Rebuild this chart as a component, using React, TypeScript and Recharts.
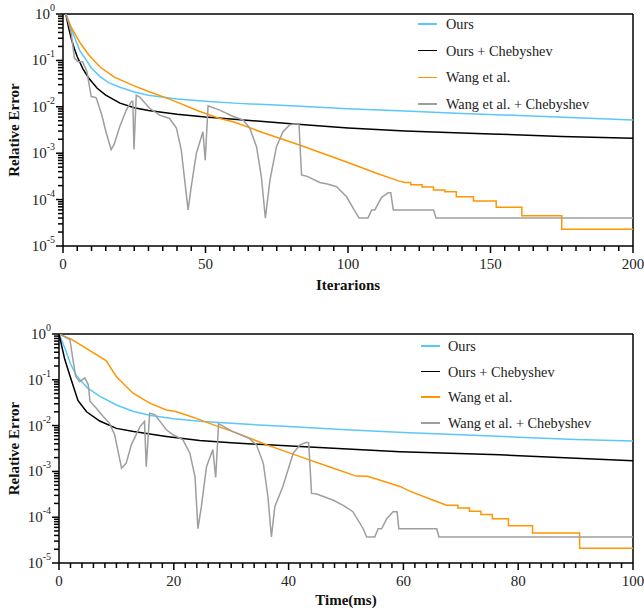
import React from 'react';
import { LineChart, Line, XAxis, YAxis, ReferenceLine } from 'recharts';

const FONT = '"Liberation Serif", "Times New Roman", Times, serif';
const AXIS_COLOR = '#000000';

const SERIES_NAMES = ['Ours', 'Ours + Chebyshev', 'Wang et al.', 'Wang et al. + Chebyshev'];
const SERIES_COLORS = ['#5ac8fa', '#000000', '#ff9500', '#9e9e9e'];

// ---- top panel: error vs iterations ----
const iterOursX = [1, 2, 3, 4, 6, 8, 10, 13, 16, 20, 25, 30, 40, 50, 60, 80, 100, 120, 140, 160, 180, 200];
const iterOursY = [1, 0.66, 0.45, 0.32, 0.158, 0.105, 0.068, 0.0447, 0.0331, 0.0263, 0.0209, 0.0178, 0.0148, 0.0132, 0.012, 0.0105, 0.0091, 0.0081, 0.0072, 0.0065, 0.0058, 0.0052];

const iterChebX = [1, 2, 3, 4, 5, 7, 9, 12, 15, 20, 25, 30, 40, 50, 60, 80, 100, 120, 150, 175, 200];
const iterChebY = [1, 0.5, 0.28, 0.178, 0.12, 0.066, 0.0417, 0.0251, 0.0178, 0.012, 0.0095, 0.0083, 0.0069, 0.006, 0.0054, 0.0043, 0.0035, 0.003, 0.0026, 0.0023, 0.0021];

const iterWangX = [1, 3, 6, 9, 13, 18, 25, 30, 35, 40, 48, 55, 60, 70, 83, 90, 100, 110, 118, 120,
  122, 122, 126, 126, 130, 130, 134, 134, 138, 138, 144, 144, 152, 152, 161, 161, 175, 175, 200];
const iterWangY = [1, 0.5, 0.24, 0.132, 0.072, 0.0437, 0.0282, 0.0214, 0.0166, 0.0126, 0.0079, 0.0056, 0.0047, 0.0028, 0.0015, 0.00105, 6.3e-4, 3.7e-4, 2.5e-4, 2.34e-4,
  2.34e-4, 2.09e-4, 2.09e-4, 1.86e-4, 1.86e-4, 1.62e-4, 1.62e-4, 1.48e-4, 1.48e-4, 1.15e-4, 1.15e-4, 9.3e-5, 9.3e-5, 6.8e-5, 6.8e-5, 4.5e-5, 4.5e-5, 2.3e-5, 2.3e-5];

const iterWangChebX = [1, 2, 2.9, 4, 5.2, 6.9, 8.4, 9.9, 11.6, 13.5, 15.2, 16.9, 18, 19.9, 22.2, 24, 24.5, 24.9, 25.7, 26.9,
  30.4, 33.9, 37.4, 39.8, 41.5, 42.7, 43.9, 45, 46.8, 49.1, 49.9, 50.9, 55, 59.7, 63.2, 65.5, 67.9, 69.6, 71, 72.6,
  74.9, 77.2, 79.6, 81.9, 82.8, 83.7, 85.5, 90.1, 92.4, 96, 99.5, 102, 103.9, 107, 108.3, 109.4, 111.8, 114.1, 115, 115.9,
  130, 130.9, 200];
const iterWangChebY = [1, 0.63, 0.38, 0.112, 0.093, 0.093, 0.0575, 0.0166, 0.0158, 0.0071, 0.0027, 0.0012, 0.00158, 0.0037, 0.0085, 0.0129, 0.0132, 0.0012, 0.0178, 0.0162,
  0.0093, 0.0066, 0.0056, 0.0035, 0.00117, 2.6e-4, 6e-5, 1.9e-4, 1e-3, 0.0029, 7.1e-4, 0.0105, 0.0085, 0.0062, 0.0052, 0.0035, 0.00138, 3.1e-4, 4e-5, 2.6e-4,
  0.00138, 0.0029, 0.0041, 0.0043, 0.0042, 3.4e-4, 3.2e-4, 2.34e-4, 2.2e-4, 1.9e-4, 1.15e-4, 6.2e-5, 4e-5, 4e-5, 6e-5, 6e-5, 1.12e-4, 1.41e-4, 1.41e-4, 6e-5,
  6e-5, 4e-5, 4e-5];

// ---- bottom panel: error vs time (ms) ----
const timeOursX = [0, 1, 2, 3, 4, 5, 7, 10, 13, 16, 20, 25, 30, 40, 50, 60, 70, 80, 90, 100];
const timeOursY = [1, 0.5, 0.224, 0.126, 0.089, 0.066, 0.0447, 0.0282, 0.0204, 0.0166, 0.0141, 0.0123, 0.0112, 0.0095, 0.0081, 0.0071, 0.0063, 0.0056, 0.005, 0.0046];

const timeChebX = [0, 1, 2, 3.3, 4.8, 7.1, 10, 13, 18.7, 24.5, 30, 42, 59.4, 76.8, 100];
const timeChebY = [1, 0.28, 0.112, 0.0355, 0.02, 0.0126, 0.0087, 0.0074, 0.0058, 0.0047, 0.0042, 0.0035, 0.0027, 0.0023, 0.0017];

const timeWangX = [0, 2.2, 8.2, 10, 12.9, 15.8, 18.7, 20.3, 22.2, 24.5, 26.8, 30.3, 36.2, 42, 47.8, 51.8, 53.7, 55.3, 59.4, 61.1,
  65.2, 67.5, 69.5, 69.5, 71.5, 71.5, 73.5, 73.5, 75.5, 75.5, 78.3, 78.3, 82.5, 82.5, 90.7, 90.7, 100];
const timeWangY = [1, 0.76, 0.263, 0.117, 0.051, 0.031, 0.0219, 0.0204, 0.017, 0.0135, 0.0105, 0.0074, 0.0038, 0.0021, 0.00117, 7.9e-4, 7.8e-4, 6.8e-4, 4.7e-4, 3.7e-4,
  2.34e-4, 1.82e-4, 1.82e-4, 1.58e-4, 1.58e-4, 1.35e-4, 1.35e-4, 1.15e-4, 1.15e-4, 9.3e-5, 9.3e-5, 6.5e-5, 6.5e-5, 4.5e-5, 4.5e-5, 2.1e-5, 2.1e-5];

const timeWangChebX = [0, 1.9, 2.4, 2.9, 3.6, 4.5, 5.1, 5.4, 6.5, 7.7, 8.8, 9.7, 10.3, 10.9, 11.7, 12.6, 14.1, 14.9, 15.2, 15.8,
  16.7, 18.7, 19.9, 21.6, 22.8, 23.7, 24.2, 24.8, 25.7, 26.8, 27.3, 27.8, 30.3, 33.2, 34.4, 35.6, 36.4, 37, 37.6, 39,
  40.8, 42, 43.1, 43.5, 44, 44.9, 47.8, 49.5, 51.2, 53, 53.6, 55, 55.6, 56.2, 57.1, 58.2, 58.9, 59.2, 65.8, 66.2, 100];
const timeWangChebY = [1, 0.76, 0.295, 0.12, 0.091, 0.11, 0.078, 0.034, 0.024, 0.0158, 0.0112, 0.0063, 0.0027, 0.00117, 0.0015, 0.0038, 0.0095, 0.0123, 0.00126, 0.0186,
  0.0174, 0.0081, 0.0063, 0.0049, 0.0025, 7.6e-4, 5.6e-5, 1.7e-4, 0.00126, 0.003, 7.4e-4, 0.011, 0.0074, 0.0052, 0.0038, 0.0015, 2.8e-4, 3.7e-5, 1.7e-4, 4.7e-4,
  0.0025, 0.0038, 0.0043, 0.0042, 3.3e-4, 3.2e-4, 2.34e-4, 1.82e-4, 1.32e-4, 5.6e-5, 3.7e-5, 3.7e-5, 5.6e-5, 5.6e-5, 9.3e-5, 1.32e-4, 1.32e-4, 5.6e-5, 5.6e-5, 3.7e-5, 3.7e-5];

// axis tick values
const iterMajorTicks = [0, 50, 100, 150, 200];
const timeMajorTicks = [0, 20, 40, 60, 80, 100];
const yDecades = [-5, -4, -3, -2, -1];
const yMantissas = [1, 2, 3, 4, 5, 6, 7, 8, 9];

const yTicks = [...yDecades.flatMap(d => yMantissas.map(m => m * Math.pow(10, d))), 1];
const minorTicks = (max: number, step: number) => Array.from({ length: max / step + 1 }, (_, i) => i * step);

const toPoints = (xs: number[], ys: number[]) => xs.map((x, i) => ({ x, y: ys[i] }));

const MINOR_LEN = 5;
const MAJOR_EXTRA = 2;

// Recharts draws the short tick; majors get a longer stub and the label here
const YTick = ({ x, y, payload }: any) => {
  const lg = Math.log10(payload.value);
  const exp = Math.round(lg);
  if (Math.abs(lg - exp) > 1e-6) return <g />;
  return (
    <g>
      <line x1={x} x2={x - MAJOR_EXTRA} y1={y} y2={y} stroke={AXIS_COLOR} strokeWidth={1.5} />
      <text x={x - 3} y={y} textAnchor="end" dominantBaseline="central" style={{ fontFamily: FONT, fontSize: 15 }} fill="#222">
        <tspan>10</tspan>
        <tspan dy={-7} style={{ fontSize: 10 }}>{exp}</tspan>
      </text>
    </g>
  );
};

const makeXTick = (majors: number[]) => ({ x, y, payload }: any) => {
  if (!majors.includes(payload.value)) return <g />;
  return (
    <g>
      <line x1={x} x2={x} y1={y} y2={y + MAJOR_EXTRA} stroke={AXIS_COLOR} strokeWidth={1.5} />
      <text x={x} y={y + 13} textAnchor="middle" dominantBaseline="central" style={{ fontFamily: FONT, fontSize: 15 }} fill="#222">
        {payload.value}
      </text>
    </g>
  );
};

// own prop names so the clone Recharts makes of a label element cannot move it
const AxisTitle = ({ tx, ty, rotate, text }: { tx: number; ty: number; rotate?: boolean; text: string }) => (
  <text
    x={tx}
    y={ty}
    transform={rotate ? `rotate(-90 ${tx} ${ty})` : undefined}
    textAnchor="middle"
    dominantBaseline="central"
    style={{ fontFamily: FONT, fontSize: 15, fontWeight: 'bold' }}
    fill="#111"
  >
    {text}
  </text>
);

interface PanelProps {
  height: number;
  marginTop: number;
  yAxisWidth: number;
  xAxisHeight: number;
  xMax: number;
  xStep: number;
  majors: number[];
  xTitle: string;
  titleY: number;
  series: { x: number[]; y: number[] }[];
}

const WIDTH = 644;
const MARGIN_RIGHT = 11;

const Panel: React.FC<PanelProps> = ({ height, marginTop, yAxisWidth, xAxisHeight, xMax, xStep, majors, xTitle, titleY, series }) => {
  const plotBottom = height - xAxisHeight;
  const plotCenterX = (yAxisWidth + WIDTH - MARGIN_RIGHT) / 2;
  const plotCenterY = (marginTop + plotBottom) / 2;
  return (
    <LineChart width={WIDTH} height={height} margin={{ top: marginTop, right: MARGIN_RIGHT, bottom: 0, left: 0 }}>
      <XAxis
        type="number"
        dataKey="x"
        domain={[0, xMax]}
        ticks={minorTicks(xMax, xStep)}
        interval={0}
        allowDataOverflow
        height={xAxisHeight}
        tickSize={MINOR_LEN}
        tickMargin={0}
        tickLine={{ stroke: AXIS_COLOR, strokeWidth: 1.5 }}
        tick={makeXTick(majors)}
        axisLine={{ stroke: AXIS_COLOR, strokeWidth: 1.5 }}
        label={<AxisTitle tx={plotCenterX} ty={titleY} text={xTitle} />}
      />
      <YAxis
        type="number"
        scale="log"
        domain={[1e-5, 1]}
        ticks={yTicks}
        interval={0}
        allowDataOverflow
        width={yAxisWidth}
        tickSize={MINOR_LEN}
        tickMargin={0}
        tickLine={{ stroke: AXIS_COLOR, strokeWidth: 1.5 }}
        tick={YTick}
        axisLine={{ stroke: AXIS_COLOR, strokeWidth: 1.5 }}
        label={<AxisTitle tx={13.5} ty={plotCenterY} rotate text="Relative Error" />}
      />
      <ReferenceLine y={1} stroke={AXIS_COLOR} strokeWidth={1.5} />
      <ReferenceLine x={xMax} stroke={AXIS_COLOR} strokeWidth={1.5} />
      {series.map((s, i) => (
        <Line
          key={SERIES_NAMES[i]}
          data={toPoints(s.x, s.y)}
          dataKey="y"
          name={SERIES_NAMES[i]}
          type="linear"
          stroke={SERIES_COLORS[i]}
          strokeWidth={1.5}
          dot={false}
          activeDot={false}
          isAnimationActive={false}
        />
      ))}
    </LineChart>
  );
};

const LegendBox: React.FC<{ top: number; sampleX: number; textX: number; gap: number }> = ({ top, sampleX, textX, gap }) => (
  <>
    {SERIES_NAMES.map((name, i) => {
      const cy = top + i * gap;
      return (
        <React.Fragment key={name}>
          <div style={{ position: 'absolute', left: sampleX, top: cy - 0.75, width: 19, height: 1.5, background: SERIES_COLORS[i] }} />
          <div style={{ position: 'absolute', left: textX, top: cy - 9, height: 18, lineHeight: '18px', fontSize: 14.3, color: '#222', whiteSpace: 'nowrap' }}>
            {name}
          </div>
        </React.Fragment>
      );
    })}
  </>
);

export default function App() {
  return (
    <div style={{ position: 'absolute', left: 0, top: 0, width: WIDTH, height: 611, background: '#fff', fontFamily: FONT }}>
      <div style={{ position: 'absolute', left: 0, top: 0 }}>
        <Panel
          height={300}
          marginTop={14}
          yAxisWidth={63}
          xAxisHeight={54}
          xMax={200}
          xStep={5}
          majors={iterMajorTicks}
          xTitle="Iterarions"
          titleY={285}
          series={[
            { x: iterOursX, y: iterOursY },
            { x: iterChebX, y: iterChebY },
            { x: iterWangX, y: iterWangY },
            { x: iterWangChebX, y: iterWangChebY },
          ]}
        />
      </div>
      <div style={{ position: 'absolute', left: 0, top: 300 }}>
        <Panel
          height={311}
          marginTop={34}
          yAxisWidth={59}
          xAxisHeight={48}
          xMax={100}
          xStep={2}
          majors={timeMajorTicks}
          xTitle="Time(ms)"
          titleY={300}
          series={[
            { x: timeOursX, y: timeOursY },
            { x: timeChebX, y: timeChebY },
            { x: timeWangX, y: timeWangY },
            { x: timeWangChebX, y: timeWangChebY },
          ]}
        />
      </div>
      <LegendBox top={24} sampleX={418} textX={446} gap={26.7} />
      <LegendBox top={346} sampleX={421} textX={448} gap={25.6} />
    </div>
  );
}
